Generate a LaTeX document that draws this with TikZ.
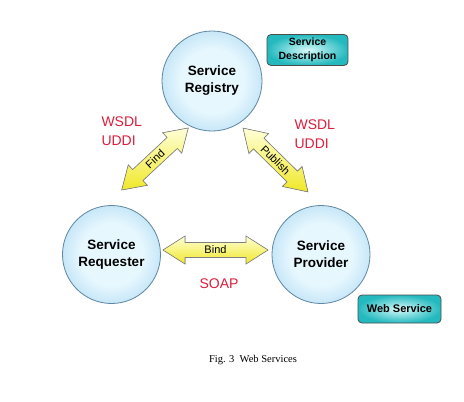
\documentclass[tikz,border=0pt]{standalone}
\usepackage{fontspec}
\setmainfont{Liberation Sans}
\newfontfamily\capfont{Liberation Serif}
\definecolor{ringblue}{RGB}{162,211,240}
\definecolor{coreblue}{RGB}{230,247,254}
\definecolor{circedge}{RGB}{95,135,160}
\definecolor{tealbox}{RGB}{35,185,190}
\definecolor{tealcore}{RGB}{215,250,250}
\definecolor{labelred}{RGB}{220,30,60}
\definecolor{arrowyel}{RGB}{240,232,40}
\definecolor{arrowlight}{RGB}{255,255,215}
\pgfdeclareradialshading{rolering}{\pgfpoint{0bp}{0bp}}{%
  color(0bp)=(coreblue); color(16bp)=(coreblue); color(36bp)=(ringblue); color(50bp)=(ringblue)}
% #1 name, #2 centre, #3 angle, #4 half length, #5 label
\newcommand\fatarrow[5]{%
  \begin{scope}[shift={#2}, rotate=#3]
    \filldraw[arrowbody] (-#4,0) -- (-#4+22,-14) -- (-#4+22,-7.5) -- (#4-22,-7.5) -- (#4-22,-14)
      -- (#4,0) -- (#4-22,14) -- (#4-22,7.5) -- (-#4+22,7.5) -- (-#4+22,14) -- cycle;
    \node[arrowlabel, rotate=#3] (#1) at (0,0) {#5};
  \end{scope}}
\begin{document}
\begin{tikzpicture}[x=1pt,y=-1pt,
  role/.style={circle, draw=circedge, line width=0.8pt, shading=rolering,
    minimum size=98pt, align=center, font=\bfseries\fontsize{13.5}{17}\selectfont},
  tag/.style={rounded corners=4pt, draw=black!70, line width=0.8pt, inner color=tealcore, outer color=tealbox,
    align=center},
  arrowbody/.style={draw=black!50, line width=0.6pt, top color=arrowlight, bottom color=arrowyel},
  arrowlabel/.style={inner sep=0pt, font=\fontsize{11}{12}\selectfont},
  proto/.style={text=labelred, align=left, font=\fontsize{14}{19}\selectfont},
  caption/.style={font=\capfont\fontsize{10.5}{12}\selectfont}]
\useasboundingbox (0,0) rectangle (464,402);
\fill[white] (0,0) rectangle (464,402);
% roles
\node[role, minimum size=100pt] (reg) at (212,81) {Service\\Registry};
\node[role] (req) at (111.5,254.5) {Service\\Requester};
\node[role] (prov) at (321,254.5) {Service\\Provider};
% tags
\node[tag, minimum width=81pt, minimum height=31pt, font=\bfseries\fontsize{10.5}{13.5}\selectfont] (desc) at (307.5,50) {Service\\Description};
\node[tag, minimum width=83pt, minimum height=28pt, font=\bfseries\fontsize{11}{13}\selectfont] (ws) at (399.5,309) {Web Service};
% arrows
\fatarrow{find}{(155,159)}{43}{45.5}{Find}
\fatarrow{pub}{(275.5,160)}{-44.5}{45.5}{Publish}
\fatarrow{bind}{(215.5,250)}{0}{52.5}{Bind}
% protocol labels
\node[proto, anchor=west] (wl) at (98,131.5) {WSDL\\UDDI};
\node[proto, anchor=west] (wr) at (291,134) {WSDL\\UDDI};
\node[proto] (soap) at (219,284) {SOAP};
% caption
\node[caption] (cap) at (253,360) {Fig. 3\enspace Web Services};
\end{tikzpicture}
\end{document}
